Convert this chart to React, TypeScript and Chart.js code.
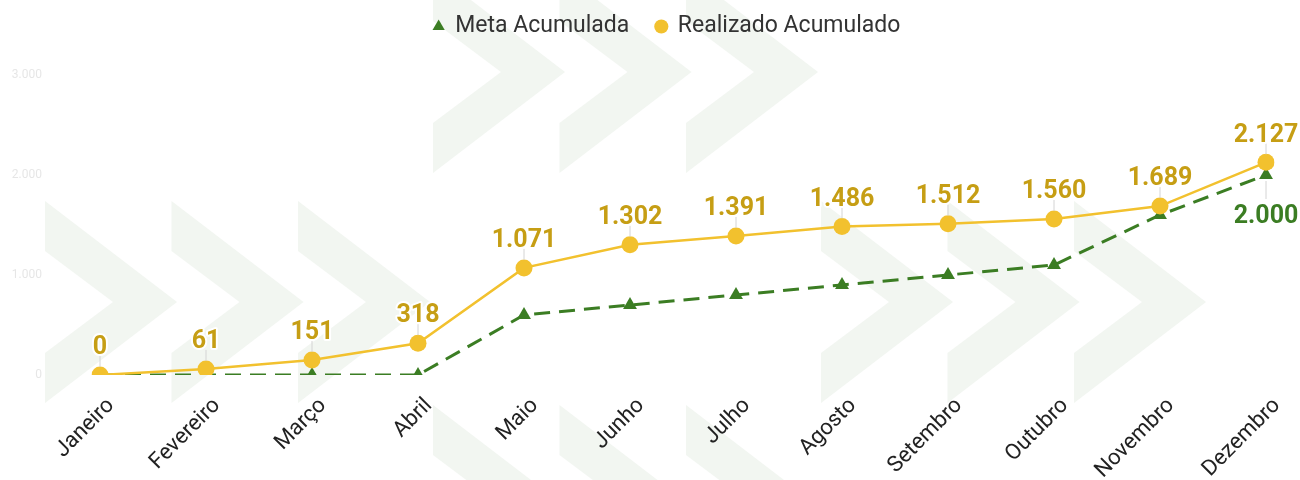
import React, { useEffect, useRef } from "react";
import { Chart, registerables } from "chart.js";

Chart.register(...registerables);

const months = ["Janeiro", "Fevereiro", "Março", "Abril", "Maio", "Junho", "Julho", "Agosto", "Setembro", "Outubro", "Novembro", "Dezembro"];
const metaAcumulada = [0, 0, 0, 0, 600, 700, 800, 900, 1000, 1100, 1600, 2000];
const realizadoAcumulado = [0, 61, 151, 318, 1071, 1302, 1391, 1486, 1512, 1560, 1689, 2127];
const yTicks = [0, 1000, 2000, 3000];

const GREEN = "#3b7d23";
const YELLOW = "#f2c12e";
const GOLD = "#c69e14";
const CHEVRON = "#f2f6f1";

const fmt = (v: number) => {
  const s = Math.round(v).toString();
  return s.replace(/\B(?=(\d{3})+(?!\d))/g, ".");
};

// decorative background chevron groups: [left x, center y]
const chevronGroups: [number, number][] = [
  [45, 302],
  [821, 302],
  [433, 72],
  [433, 506],
];

const bgPlugin = {
  id: "bgChevrons",
  beforeDraw(chart: any) {
    const ctx = chart.ctx;
    ctx.save();
    ctx.fillStyle = "#ffffff";
    ctx.fillRect(0, 0, chart.width, chart.height);
    ctx.fillStyle = CHEVRON;
    chevronGroups.forEach(([gx, cy]) => {
      for (let k = 0; k < 3; k++) {
        const x0 = gx + k * 126.5;
        ctx.beginPath();
        ctx.moveTo(x0, cy - 101);
        ctx.lineTo(x0 + 132, cy);
        ctx.lineTo(x0, cy + 101);
        ctx.lineTo(x0, cy + 51);
        ctx.lineTo(x0 + 68, cy);
        ctx.lineTo(x0, cy - 51);
        ctx.closePath();
        ctx.fill();
      }
    });
    ctx.restore();
  },
};

const legendSpacePlugin = {
  id: "legendSpace",
  beforeInit(chart: any) {
    const legend = chart.legend;
    if (!legend) return;
    const origFit = legend.fit;
    legend.fit = function () {
      origFit.call(this);
      this.height = 87;
    };
  },
  afterLayout(chart: any) {
    const legend = chart.legend;
    if (!legend) return;
    legend.left += 34;
    legend.right += 34;
  },
};

const labelsPlugin = {
  id: "valueLabels",
  afterDatasetsDraw(chart: any) {
    const ctx = chart.ctx;
    ctx.save();
    ctx.font = "bold 25px Roboto";
    ctx.textAlign = "center";
    ctx.textBaseline = "middle";
    ctx.lineJoin = "round";
    const drawLabel = (x: number, y: number, text: string, color: string, below: boolean) => {
      ctx.strokeStyle = "#d4d4d4";
      ctx.lineWidth = 1;
      ctx.beginPath();
      if (below) {
        ctx.moveTo(x, y + 6);
        ctx.lineTo(x, y + 24);
      } else {
        ctx.moveTo(x, y - 8);
        ctx.lineTo(x, y - 19);
      }
      ctx.stroke();
      const ty = below ? y + 42 : y - 27;
      ctx.strokeStyle = "#ffffff";
      ctx.lineWidth = 4;
      ctx.strokeText(text, x, ty);
      ctx.fillStyle = color;
      ctx.fillText(text, x, ty);
    };
    const realMeta = chart.getDatasetMeta(0);
    realMeta.data.forEach((pt: any, i: number) => {
      drawLabel(pt.x, pt.y, fmt(realizadoAcumulado[i]), GOLD, false);
    });
    const metaMeta = chart.getDatasetMeta(1);
    const last = metaMeta.data.length - 1;
    const lp = metaMeta.data[last];
    drawLabel(lp.x, lp.y, fmt(metaAcumulada[last]), GREEN, true);
    ctx.restore();
  },
};

export default function App() {
  const ref = useRef<HTMLCanvasElement>(null);
  useEffect(() => {
    if (!ref.current) return;
    Chart.defaults.font.family = "Roboto";
    const chart = new Chart(ref.current, {
      type: "line",
      data: {
        labels: months,
        datasets: [
          {
            label: "Realizado Acumulado",
            data: realizadoAcumulado,
            borderColor: YELLOW,
            backgroundColor: YELLOW,
            borderWidth: 2.5,
            pointStyle: "circle",
            pointRadius: 8.5,
            pointBackgroundColor: YELLOW,
            pointBorderWidth: 0,
            tension: 0,
          },
          {
            label: "Meta Acumulada",
            data: metaAcumulada,
            borderColor: GREEN,
            backgroundColor: GREEN,
            borderWidth: 3,
            borderDash: [16, 9],
            pointStyle: "triangle",
            pointRadius: 8,
            pointBackgroundColor: GREEN,
            pointBorderWidth: 0,
            tension: 0,
          },
        ],
      },
      options: {
        animation: false,
        responsive: false,
        layout: { padding: { top: -12, right: 34, left: 0, bottom: 0 } },
        plugins: {
          tooltip: { enabled: false },
          legend: {
            position: "top",
            reverse: true,
            labels: {
              usePointStyle: true,
              boxWidth: 10,
              boxHeight: 10,
              padding: 27,
              color: "#333333",
              font: { size: 23, family: "Roboto" },
              generateLabels: (c: any) =>
                (Chart.defaults.plugins.legend.labels as any).generateLabels(c).map((l: any) => ({
                  ...l,
                  lineWidth: 0,
                  lineDash: [],
                  strokeStyle: l.fillStyle,
                })),
            },
          },
        },
        scales: {
          x: {
            grid: { display: false, drawTicks: false },
            border: { display: false },
            afterFit: (s: any) => {
              s.height = 105;
              s.paddingLeft = 0;
              s.paddingRight = 0;
            },
            ticks: {
              minRotation: 45,
              maxRotation: 45,
              padding: 18,
              labelOffset: 11,
              color: "#222222",
              font: { size: 22, family: "Roboto" },
            },
          },
          y: {
            min: 0,
            max: 3000,
            afterFit: (s: any) => {
              s.width = 100;
            },
            afterBuildTicks: (s: any) => {
              s.ticks = yTicks.map((v) => ({ value: v }));
            },
            grid: { display: false, drawTicks: false },
            border: { display: false },
            ticks: {
              padding: 58,
              color: "rgba(200,200,200,0.45)",
              font: { size: 12, family: "Roboto" },
              callback: (v: any) => fmt(Number(v)),
            },
          },
        },
      },
      plugins: [bgPlugin, legendSpacePlugin, labelsPlugin],
    } as any);
    return () => chart.destroy();
  }, []);
  return (
    <div style={{ position: "absolute", left: 0, top: 0, width: 1300, height: 480 }}>
      <canvas ref={ref} width={1300} height={480} style={{ display: "block" }} />
    </div>
  );
}
